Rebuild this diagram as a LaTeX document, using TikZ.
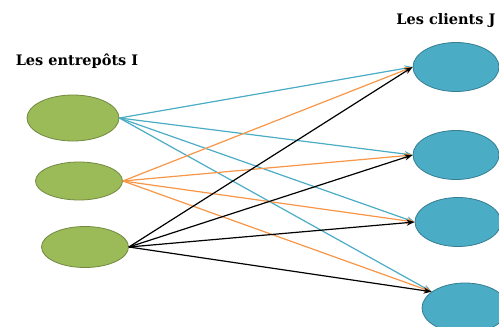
\documentclass[tikz,border=0pt]{standalone}
\usepackage{fontspec}
\setmainfont{DejaVu Serif}
\usetikzlibrary{shapes.geometric,arrows.meta}
\definecolor{entrepotfill}{HTML}{9BBB59}
\definecolor{entrepotdraw}{HTML}{71893F}
\definecolor{clientfill}{HTML}{4BACC6}
\definecolor{clientdraw}{HTML}{357D91}
\definecolor{flowblue}{HTML}{4BACC6}
\definecolor{floworange}{HTML}{F79646}
\tikzset{
  entrepot/.style={ellipse,draw=entrepotdraw,fill=entrepotfill,line width=0.8pt,inner sep=0pt},
  client/.style={ellipse,draw=clientdraw,fill=clientfill,line width=0.8pt,inner sep=0pt,minimum width=86pt,minimum height=49pt},
  flow/.style={-{Stealth[length=8pt,width=6pt]},line width=1.2pt},
  titre/.style={font=\bfseries\fontsize{14.5}{17}\selectfont}
}
\begin{document}
\begin{tikzpicture}[x=1pt,y=-1pt]
\useasboundingbox (0,0) rectangle (499,327);

\node (titreI) at (77,61) [titre] {Les entrepôts I};
\node (titreJ) at (446,20) [titre] {Les clients J};

\node (i1) at (73,118) [entrepot,minimum width=92pt,minimum height=46pt] {};
\node (i2) at (79,181) [entrepot,minimum width=87pt,minimum height=38pt] {};
\node (i3) at (85,247) [entrepot,minimum width=87pt,minimum height=41pt] {};

\node (j1) at (456,67) [client] {};
\node (j2) at (456,155) [client] {};
\node (j3) at (458,222) [client] {};
\node (j4) at (465,308) [client,minimum height=50pt] {};

\coordinate (a1) at (j1.west);
\coordinate (a2) at (j2.west);
\coordinate (a3) at (j3.west);
\coordinate (a4) at (j4.154);

\foreach \j in {1,2,3,4}
  \draw[flow,color=flowblue] (i1.east) -- (a\j);
\foreach \j in {1,2,3,4}
  \draw[flow,color=floworange] (i2.east) -- (a\j);
\foreach \j in {1,2,3,4}
  \draw[flow,color=black] (i3.east) -- (a\j);

\end{tikzpicture}
\end{document}
